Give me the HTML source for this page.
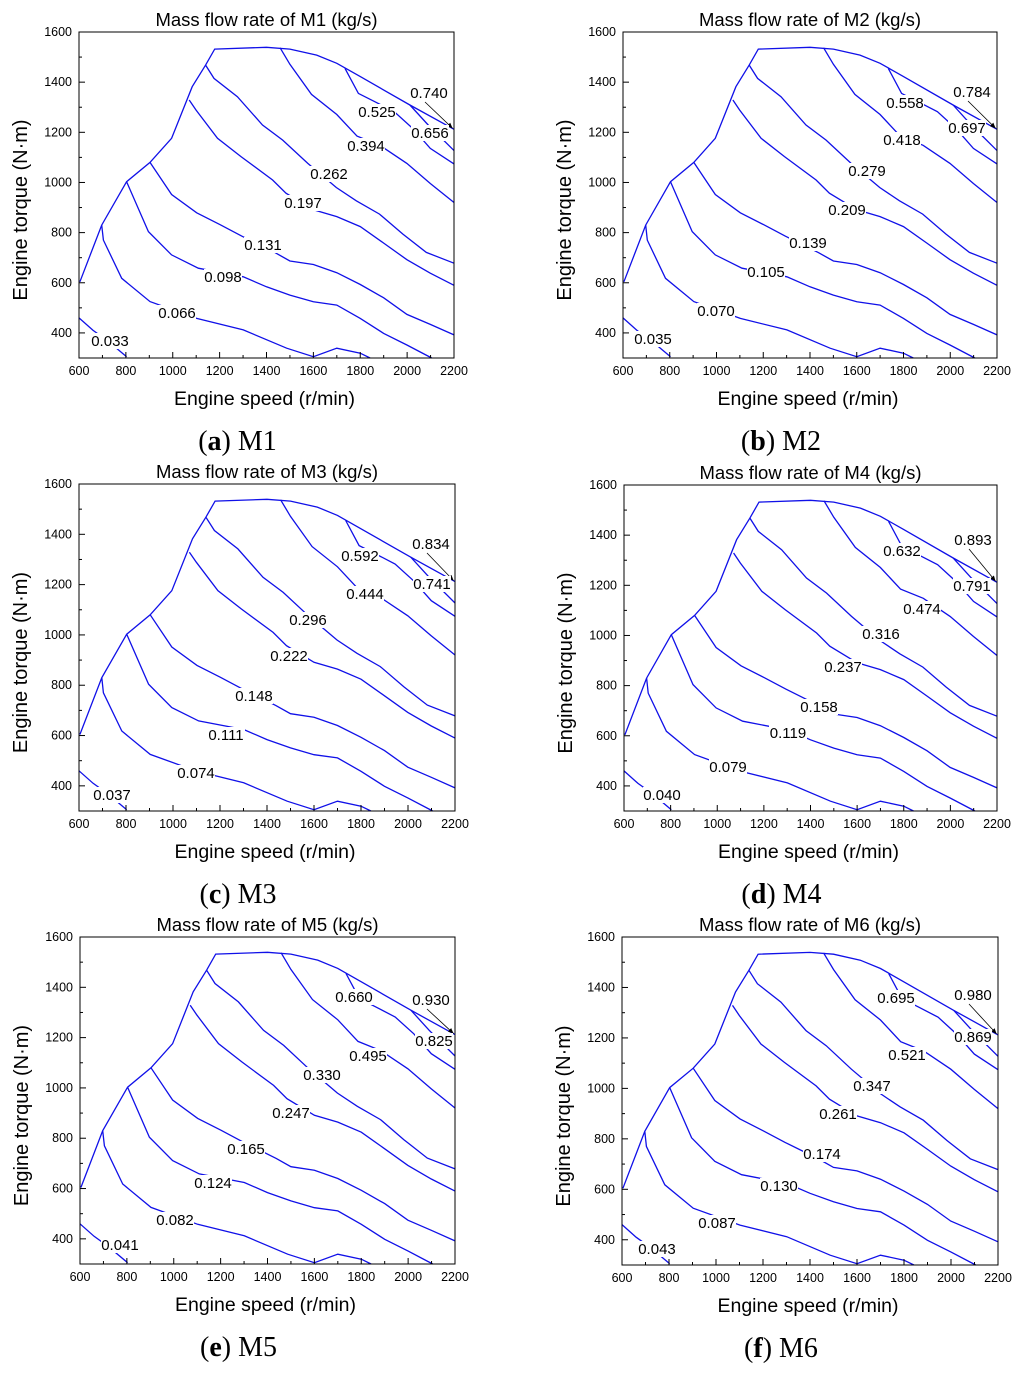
<!DOCTYPE html>
<html><head><meta charset="utf-8">
<style>
html,body{margin:0;padding:0;background:#fff;}
svg{display:block;font-family:"Liberation Sans",Arial,sans-serif;}
.cap{font-family:"Liberation Serif","Times New Roman",serif;font-size:28px;}
</style></head>
<body>
<svg id="chart" width="1024" height="1373" viewBox="0 0 1024 1373" xmlns="http://www.w3.org/2000/svg"></svg>
<script>
// Axis domain
const xTicks = [600,800,1000,1200,1400,1600,1800,2000,2200];
const yTicks = [400,600,800,1000,1200,1400,1600];
const xDomain = [600,2200];
const yDomain = [300,1600];

// Operating envelope (speed r/min, torque N·m)
const envelope = [[604,604],[697,830],[803,1003],[903,1080],[995,1176],[1083,1382],[1140,1468],[1179,1532],[1400,1539],[1500,1532],[1614,1508],[1700,1475],[1800,1422],[2012,1309],[2200,1212]];

// Contour lines (speed, torque) – shared shape across panels
const contour1 = [[600,460],[660,410],[720,370],[803,305]];
const contour2 = [[697,830],[704,770],[782,618],[903,525],[1102,458],[1301,412],[1486,339],[1600,305],[1700,339],[1800,319],[1842,300]];
const contour3 = [[803,1003],[896,804],[995,711],[1109,658],[1301,624],[1400,584],[1500,551],[1600,524],[1700,511],[1800,458],[1900,398],[1999,352],[2105,300]];
const contour4 = [[903,1080],[995,952],[1102,879],[1201,832],[1294,786],[1437,720],[1500,687],[1600,673],[1700,640],[1800,593],[1900,540],[1999,474],[2099,434],[2200,392]];
const contour5 = [[1070,1329],[1099,1289],[1191,1176],[1291,1103],[1426,1010],[1483,957],[1600,891],[1700,864],[1800,824],[1900,758],[1999,692],[2099,638],[2200,590]];
const contour6 = [[1140,1468],[1176,1415],[1276,1342],[1383,1229],[1469,1169],[1576,1076],[1698,980],[1783,927],[1882,874],[1982,794],[2082,721],[2200,678]];
const contour7 = [[1458,1537],[1500,1471],[1592,1351],[1700,1271],[1786,1185],[1884,1148],[1999,1076],[2099,996],[2200,920]];
const contour8 = [[1735,1455],[1792,1355],[1862,1322],[1945,1282],[2024,1215],[2099,1136],[2200,1074]];
const contour9 = [[2012,1309],[2090,1229],[2200,1127]];
const contours = [contour1,contour2,contour3,contour4,contour5,contour6,contour7,contour8,contour9];
const arrowTip = [2194,1216];

// Level labels per panel
const levelsM1 = ["0.740","0.525","0.656","0.394","0.262","0.197","0.131","0.098","0.066","0.033"];
const levelsM2 = ["0.784","0.558","0.697","0.418","0.279","0.209","0.139","0.105","0.070","0.035"];
const levelsM3 = ["0.834","0.592","0.741","0.444","0.296","0.222","0.148","0.111","0.074","0.037"];
const levelsM4 = ["0.893","0.632","0.791","0.474","0.316","0.237","0.158","0.119","0.079","0.040"];
const levelsM5 = ["0.930","0.660","0.825","0.495","0.330","0.247","0.165","0.124","0.082","0.041"];
const levelsM6 = ["0.980","0.695","0.869","0.521","0.347","0.261","0.174","0.130","0.087","0.043"];
const panelNames = ["M1","M2","M3","M4","M5","M6"];
const panelLetters = ["a","b","c","d","e","f"];
const panelLevels = [levelsM1,levelsM2,levelsM3,levelsM4,levelsM5,levelsM6];

// Layout (pixels)
const panelBoxes = [[79,32,454,358],[623,32,997,358],[79,484,455,811],[624,485,997,811],[80,937,455,1264],[622,937,998,1265]];
const labelOffsets = [
 [[350,61],[298,80],[351,101],[287,114],[250,142],[224,171],[184,213],[144,245],[98,281],[31,309]],
 [[349,60],[282,71],[344,96],[279,108],[244,139],[224,178],[185,211],[143,240],[93,279],[30,307]],
 [[352,60],[281,72],[353,100],[286,110],[229,136],[210,172],[175,212],[147,251],[117,289],[33,311]],
 [[349,55],[278,66],[348,101],[298,124],[257,149],[219,182],[195,222],[164,248],[104,282],[38,310]],
 [[351,63],[274,60],[354,104],[288,119],[242,138],[211,176],[166,212],[133,246],[95,283],[40,308]],
 [[351,58],[274,61],[351,100],[285,118],[250,149],[216,177],[200,217],[157,249],[95,286],[35,312]]
];

const NS="http://www.w3.org/2000/svg";
const svg=document.getElementById('chart');
function mk(tag,attrs,parent){const e=document.createElementNS(NS,tag);for(const k in attrs)e.setAttribute(k,attrs[k]);(parent||svg).appendChild(e);return e;}

const defs=mk('defs',{});
const mrk=mk('marker',{id:'arr',markerWidth:8,markerHeight:8,refX:7,refY:4,orient:'auto'},defs);
mk('path',{d:'M0,1 L7,4 L0,7 Z',fill:'#000'},mrk);

panelBoxes.forEach((b,p)=>{
  const [L,T,R,B]=b;
  const g=mk('g',{});
  
  
  const sx=v=>L+(v-xDomain[0])/(xDomain[1]-xDomain[0])*(R-L);
  const sy=v=>B-(v-yDomain[0])/(yDomain[1]-yDomain[0])*(B-T);
  const cx=(L+R)/2;
  const t=mk('text',{x:cx,y:T-6,'text-anchor':'middle','font-size':18.5},g);
  t.textContent='Mass flow rate of '+panelNames[p]+' (kg/s)';
  
  
  const toPts=arr=>arr.map(d=>sx(d[0]).toFixed(1)+','+sy(d[1]).toFixed(1)).join(' ');
  const env=mk('polyline',{points:toPts(envelope),fill:'none',stroke:'#1010e8','stroke-width':1.3},g);
  
  
  contours.forEach((c,i)=>{
    const pl=mk('polyline',{points:toPts(c),fill:'none',stroke:'#1010e8','stroke-width':1.3},g);
    
    
  });
  panelLevels[p].forEach((lv,i)=>{
    const o=labelOffsets[p][i];
    const x=L+o[0], y=T+o[1];
    if(i!==0){mk('rect',{x:x-19,y:y-8,width:38,height:16,fill:'#fff'},g);}
    const tx=mk('text',{x:x,y:y+5,'text-anchor':'middle','font-size':15},g);
    tx.textContent=lv;
    
    
    if(i===0){
      const ar=mk('line',{x1:x-4,y1:y+9,x2:sx(arrowTip[0]),y2:sy(arrowTip[1]),stroke:'#000','stroke-width':0.8,'marker-end':'url(#arr)'},g);
      
      
    }
  });
  const fr=mk('rect',{x:L,y:T,width:R-L,height:B-T,fill:'none',stroke:'#000','stroke-width':1},g);
  
  
  xTicks.forEach((v,i)=>{
    mk('line',{x1:sx(v),y1:B,x2:sx(v),y2:B-6,stroke:'#000'},g);
    if(i<xTicks.length-1){const m=sx(v+100);mk('line',{x1:m,y1:B,x2:m,y2:B-3,stroke:'#000'},g);}
    const tl=mk('text',{x:sx(v),y:B+17,'text-anchor':'middle','font-size':12.5},g);
    tl.textContent=v;
    
    
  });
  yTicks.forEach(v=>{
    mk('line',{x1:L,y1:sy(v),x2:L+6,y2:sy(v),stroke:'#000'},g);
    const m=sy(v-100);mk('line',{x1:L,y1:m,x2:L+3,y2:m,stroke:'#000'},g);
    const tl=mk('text',{x:L-7,y:sy(v)+4,'text-anchor':'end','font-size':12.5},g);
    tl.textContent=v;
    
    
  });
  const xl=mk('text',{x:cx-2,y:B+47,'text-anchor':'middle','font-size':19.5},g);
  xl.textContent='Engine speed (r/min)';
  
  
  const yc=(T+B)/2+15;
  const yx=L-59;
  const yl=mk('text',{x:yx,y:yc+7,'text-anchor':'middle','font-size':20,transform:'rotate(-90 '+yx+' '+yc+')'},g);
  yl.textContent='Engine torque (N·m)';
  
  
  const cp=mk('text',{x:cx-29,y:B+92,'text-anchor':'middle',class:'cap'},g);
  cp.innerHTML='(<tspan font-weight="bold">'+panelLetters[p]+'</tspan>) '+panelNames[p];
  
  
});
</script>
</body></html>
